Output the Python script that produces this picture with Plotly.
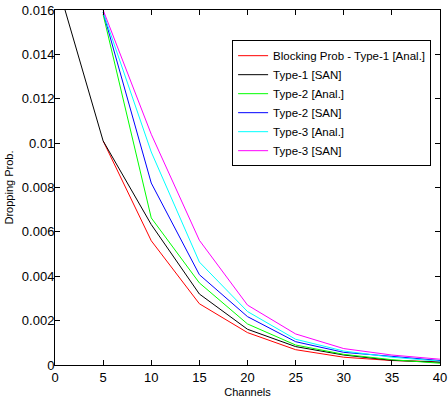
import plotly.graph_objects as go

channels = [0, 5, 10, 15, 20, 25, 30, 35, 40]
ch5 = [5, 10, 15, 20, 25, 30, 35, 40]

type1_anal = [0.0101, 0.0056, 0.00276, 0.00146, 0.00069, 0.00035, 0.0002, 0.00015]
type1_san = [0.01755, 0.0101, 0.00633, 0.0032, 0.00161, 0.00083, 0.00045, 0.00021, 0.00012]
type2_anal = [0.0158, 0.00663, 0.0037, 0.00185, 0.0009, 0.00048, 0.00024, 0.00008]
type2_san = [0.0159, 0.0082, 0.00407, 0.00218, 0.00105, 0.00057, 0.00039, 0.0002]
type3_anal = [0.0159, 0.0096, 0.00464, 0.00241, 0.00116, 0.00063, 0.00035, 0.00017]
type3_san = [0.0160, 0.0104, 0.00562, 0.0027, 0.0014, 0.00074, 0.00045, 0.00026]

names = ["Blocking Prob - Type-1 [Anal.]", "Type-1 [SAN]", "Type-2 [Anal.]",
         "Type-2 [SAN]", "Type-3 [Anal.]", "Type-3 [SAN]"]
colors = ["#ff0000", "#000000", "#00ff00", "#0000ff", "#00ffff", "#ff00ff"]
xs = [ch5, channels, ch5, ch5, ch5, ch5]
ys = [type1_anal, type1_san, type2_anal, type2_san, type3_anal, type3_san]

yticks = [0, 0.002, 0.004, 0.006, 0.008, 0.01, 0.012, 0.014, 0.016]
ytext = ["0", "0.002", "0.004", "0.006", "0.008", "0.01", "0.012", "0.014", "0.016"]
xticks = [0, 5, 10, 15, 20, 25, 30, 35, 40]

fig = go.Figure()
for x, y, n, c in zip(xs, ys, names, colors):
    fig.add_trace(go.Scatter(x=x, y=y, name=n, mode="lines",
                             line=dict(color=c, width=1)))

font = "Liberation Sans, Arial, sans-serif"
narrow = "Liberation Sans Narrow, Arial Narrow, Liberation Sans, sans-serif"
fig.update_layout(
    width=448, height=406,
    margin=dict(l=55, r=8, t=10, b=41),
    plot_bgcolor="white", paper_bgcolor="white",
    font=dict(family=font, size=12, color="black"),
    showlegend=True,
    legend=dict(x=0.46, y=0.915, xanchor="left", yanchor="top",
                bordercolor="black", borderwidth=1, bgcolor="white",
                font=dict(size=11.5, family=font), tracegroupgap=0,
                itemwidth=30),
    xaxis=dict(range=[0, 40], tickvals=xticks, ticks="inside", ticklen=5,
               showline=True, linecolor="black", linewidth=1, mirror="ticks",
               showgrid=False, zeroline=False, tickcolor="black", automargin=False,
               tickfont=dict(family=narrow, size=13),
               title=dict(text="Channels", font=dict(size=11), standoff=4)),
    yaxis=dict(range=[0, 0.016], tickvals=yticks, ticktext=ytext, ticks="inside",
               ticklen=5, showline=True, linecolor="black", linewidth=1,
               mirror="ticks", showgrid=False, zeroline=False, tickcolor="black",
               automargin=False,
               tickfont=dict(family=narrow, size=13), ticklabelstandoff=-3,
               title=dict(text="Dropping Prob.", font=dict(size=11), standoff=6)),
)
fig.write_html("out.html")
